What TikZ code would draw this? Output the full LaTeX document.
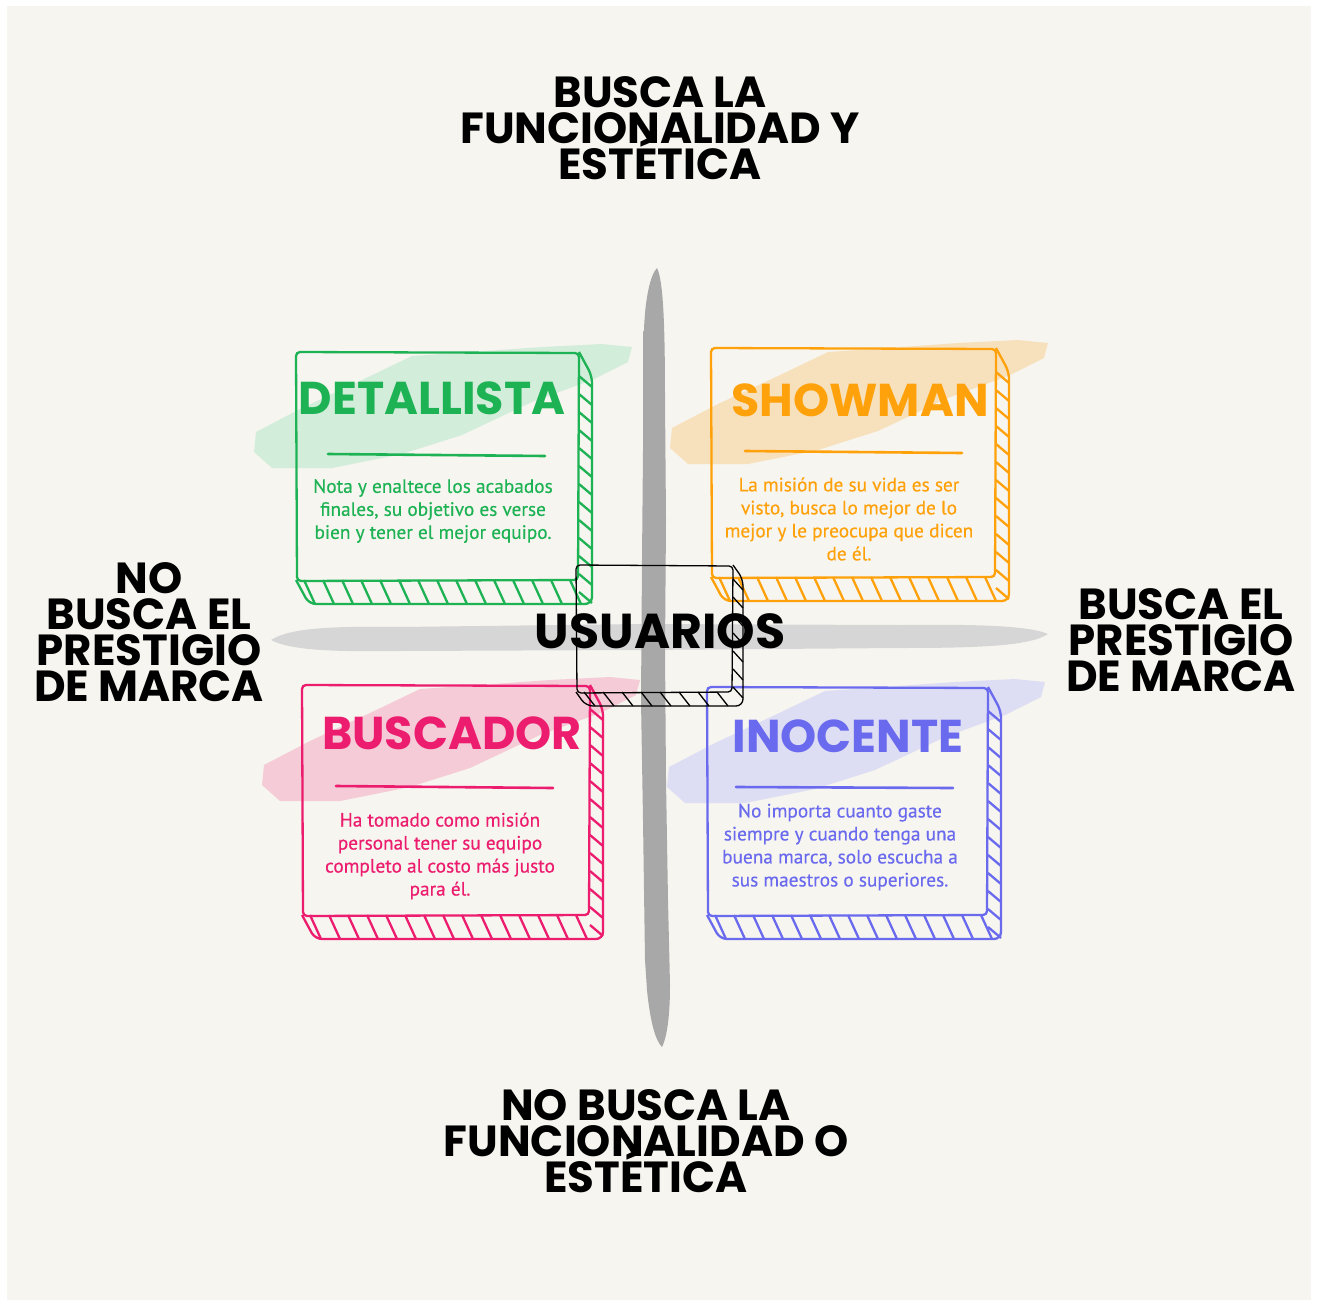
\documentclass[tikz,border=0pt]{standalone}
\usepackage{fontspec}
\setmainfont{PT Sans}
\newfontfamily\bodyf{PT Sans}[FakeBold=0.35]
\newfontfamily\heavy{Poppins}[BoldFont=* Bold]
\newcommand\tightlines{\lineskiplimit=-60pt\relax}
\usetikzlibrary{calc}
\definecolor{bgc}{HTML}{F7F5EF}
\definecolor{cgreen}{HTML}{1DB254}
\definecolor{corange}{HTML}{FFA10A}
\definecolor{cpink}{HTML}{EC1C6E}
\definecolor{cblue}{HTML}{6A6AEE}
\definecolor{lgreen}{HTML}{D3EDDB}
\definecolor{lorange}{HTML}{F7E1BD}
\definecolor{lpink}{HTML}{F4CBD7}
\definecolor{lblue}{HTML}{DDDDF3}
\definecolor{gdark}{HTML}{A8A8A8}
\definecolor{glight}{HTML}{D6D6D6}
\tikzset{
  heading/.style={font=\heavy\bfseries\fontsize{43.5}{35.8}\selectfont\tightlines, align=center, text=black, inner sep=0pt},
  cardtitle/.style={font=\heavy\bfseries\fontsize{46}{46}\selectfont, inner sep=0pt},
  cardbody/.style={font=\bodyf\fontsize{19.3}{23}\selectfont, align=center, inner sep=0pt},
  rule/.style={line width=2.6pt, line cap=round},
}
% #1 x1, #2 y1, #3 x2, #4 y2, #5 colour, #6 dx, #7 dy, #8 width
\newcommand\hatchbox[8]{%
  \draw[#5, line width=#8, rounded corners=4] (#1,#2) -- (#3,{#2+1}) -- ({#3-1},#4) -- ({#1+1},{#4+1}) -- cycle;
  \draw[#5, line width=#8, rounded corners=7] (#1,#4) -- ({#1+#6},{#4+#7}) -- ({#3+#6},{#4+#7}) -- ({#3+#6},{#2+#7}) -- (#3,#2);
  \pgfmathtruncatemacro\nb{(#3-#1-14)/19}
  \foreach \t in {0,...,\nb} \draw[#5, line width=#8] ({#1+8+\t*19},#4) -- ++(11,#7);
  \pgfmathtruncatemacro\nr{(#4-#2-12)/18}
  \foreach \t in {0,...,\nr} \draw[#5, line width=#8] (#3,{#2+#7+\t*18}) -- ++(#6,11);
}
% brush behind card: #1 x, #2 y (card top-left), #3 colour
\newcommand\brush[3]{%
  \fill[#3] ({#1-36},{#2+82}) -- ({#1+10},{#2+58}) -- ({#1+70},{#2+30}) -- ({#1+120},{#2+6})
    -- ({#1+180},{#2+2}) -- ({#1+250},{#2-3}) -- ({#1+310},{#2-6}) -- ({#1+340},{#2-3})
    -- ({#1+336},{#2+12}) -- ({#1+300},{#2+30}) -- ({#1+240},{#2+52}) -- ({#1+170},{#2+85})
    -- ({#1+110},{#2+104}) -- ({#1+40},{#2+118}) -- ({#1-20},{#2+118}) -- ({#1-38},{#2+102}) -- cycle;
}
\begin{document}
\begin{tikzpicture}[x=1pt,y=-1pt]
\useasboundingbox (0,0) rectangle (1317,1306);
\fill[white] (0,0) rectangle (1317,1306);
\fill[bgc] (7,6) rectangle (1311,1300);

% axes (brush bars)
\fill[glight] (271,640) .. controls (290,628) and (330,626) .. (400,627) -- (640,624) -- (900,625)
  .. controls (980,624) and (1030,626) .. (1048,634) .. controls (1030,646) and (980,648) .. (900,648)
  -- (640,650) -- (400,651) .. controls (330,652) and (290,650) .. (271,640) -- cycle;
\fill[gdark] (657,268) .. controls (650,275) and (645,300) .. (644,330) -- (643,332) -- (643,450)
  -- (642,560) -- (641,700) -- (643,820) -- (645,960) -- (647,990) .. controls (650,1020) and (655,1040) .. (662,1047)
  .. controls (668,1035) and (670,1010) .. (670,985) -- (668,900) -- (666,780) -- (665,650) -- (666,520)
  -- (665,400) .. controls (665,320) and (663,280) .. (657,268) -- cycle;

% brushes
\brush{292}{350}{lgreen}
\brush{708}{346}{lorange}
\brush{300}{683}{lpink}
\brush{705}{685}{lblue}

% cards
\hatchbox{296}{352}{579}{580}{cgreen}{13}{24}{2.3pt}
\hatchbox{711}{348}{996}{577}{corange}{13}{24}{2.3pt}
\hatchbox{302}{685}{590}{915}{cpink}{13}{24}{2.3pt}
\hatchbox{707}{687}{988}{915}{cblue}{13}{24}{2.3pt}

% centre box
\hatchbox{576}{565}{733}{692}{black}{10}{14}{1.3pt}

% card texts
\node[cardtitle, text=cgreen] (t1) at (432,398) {DETALLISTA};
\draw[cgreen, rule] (328,454) -- (545,456);
\node[cardbody, text=cgreen] (b1) at (433,511) {Nota y enaltece los acabados\\finales, su objetivo es verse\\bien y tener el mejor equipo.};

\node[cardtitle, text=corange] (t2) at (860,400) {SHOWMAN};
\draw[corange, rule] (745,451) -- (962,453);
\node[cardbody, text=corange] (b2) at (849,519) {La misión de su vida es ser\\visto, busca lo mejor de lo\\mejor y le preocupa que dicen\\de él.};

\node[cardtitle, text=cpink] (t3) at (452,733) {BUSCADOR};
\draw[cpink, rule] (336,786) -- (553,788);
\node[cardbody, text=cpink] (b3) at (440,856) {Ha tomado como misión\\personal tener su equipo\\completo al costo más justo\\para él.};

\node[cardtitle, text=cblue] (t4) at (848,736) {INOCENTE};
\draw[cblue, rule] (736,787) -- (953,788);
\node[cardbody, text=cblue] (b4) at (840,847) {No importa cuanto gaste\\siempre y cuando tenga una\\buena marca, solo escucha a\\sus maestros o superiores.};

% centre label
\node[font=\heavy\bfseries\fontsize{49}{49}\selectfont, inner sep=0pt, text=black] (u) at (660,631) {USUARIOS};

% axis labels
\node[heading] (top) at (660,128) {BUSCA LA\\FUNCIONALIDAD Y\\ESTÉTICA};
\node[heading] (bottom) at (646,1141) {NO BUSCA LA\\FUNCIONALIDAD O\\ESTÉTICA};
\node[heading] (left) at (149,632) {NO\\BUSCA EL\\PRESTIGIO\\DE MARCA};
\node[heading] (right) at (1181,640) {BUSCA EL\\PRESTIGIO\\DE MARCA};
\end{tikzpicture}
\end{document}
